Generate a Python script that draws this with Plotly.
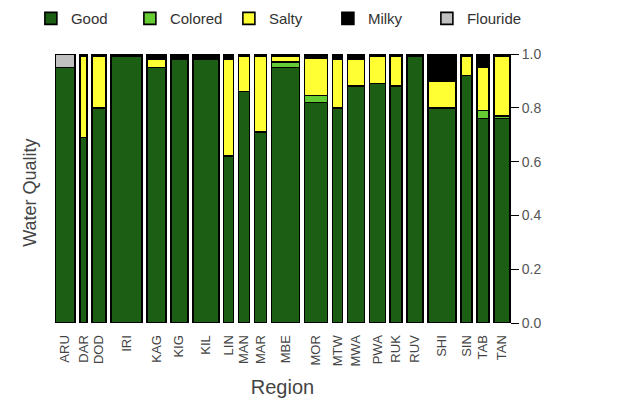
import plotly.graph_objects as go

# Water quality share per region (spine plot: bar width ~ number of samples)
regions = ["ARU", "DAR", "DOD", "IRI", "KAG", "KIG", "KIL", "LIN", "MAN", "MAR", "MBE",
           "MOR", "MTW", "MWA", "PWA", "RUK", "RUV", "SHI", "SIN", "TAB", "TAN"]
widths = [20, 7, 14, 31, 19, 17, 26, 10, 11, 12, 28, 23, 10, 17, 16, 12, 16, 28, 11, 12, 16]

good = [0.95, 0.69, 0.80, 0.99, 0.95, 0.98, 0.98, 0.62, 0.86, 0.71, 0.95,
        0.82, 0.80, 0.88, 0.89, 0.88, 0.99, 0.80, 0.92, 0.76, 0.76]
colored = [0, 0, 0, 0, 0, 0, 0, 0, 0, 0, 0.02,
           0.025, 0, 0, 0, 0, 0, 0, 0, 0.03, 0.01]
salty = [0, 0.30, 0.19, 0, 0.03, 0, 0.005, 0.36, 0.13, 0.28, 0.02,
         0.14, 0.18, 0.10, 0.10, 0.11, 0, 0.10, 0.07, 0.16, 0.22]
milky = [0, 0.01, 0.01, 0.01, 0.02, 0.02, 0.015, 0.02, 0.01, 0.01, 0.01,
         0.015, 0.02, 0.02, 0.01, 0.01, 0.01, 0.10, 0.01, 0.05, 0.01]
flouride = [0.05, 0, 0, 0, 0, 0, 0, 0, 0, 0, 0,
            0, 0, 0, 0, 0, 0, 0, 0, 0, 0]

series = [
    ("Good", good, "#1b5e14"),
    ("Colored", colored, "#66cc33"),
    ("Salty", salty, "#ffff33"),
    ("Milky", milky, "#000000"),
    ("Flouride", flouride, "#c0c0c0"),
]

gap = 4.95
centers = []
pos = 0.0
for w in widths:
    centers.append(pos + w / 2)
    pos += w + gap
total = pos - gap

FONT = "Liberation Sans, Arial, sans-serif"

fig = go.Figure()
for name, vals, color in series:
    fig.add_trace(go.Bar(
        x=centers, y=vals, width=widths, name=name,
        marker=dict(color=color, line=dict(color="#000000", width=1.6)),
    ))

fig.update_layout(
    width=619, height=398,
    margin=dict(l=55, r=109, t=54, b=75, autoexpand=False),
    barmode="stack",
    plot_bgcolor="white", paper_bgcolor="white",
    font=dict(family=FONT, color="#333333"),
    showlegend=True,
    legend=dict(
        orientation="h", x=-0.053, xanchor="left", y=1.193, yanchor="top",
        font=dict(size=15, color="#333333"),
        entrywidth=54, entrywidthmode="pixels",
        traceorder="normal",
    ),
    xaxis=dict(
        range=[0, total], showline=False, showgrid=False, zeroline=False,
        tickmode="array", tickvals=centers, ticktext=regions,
        tickangle=-90, ticks="outside", ticklen=6, tickcolor="rgba(0,0,0,0)",
        tickfont=dict(size=13, color="#444444"),
        title=dict(text="Region", font=dict(size=20, color="#444444"), standoff=18),
    ),
    yaxis=dict(
        range=[0, 1], side="right", showline=True, linecolor="#000000", linewidth=1,
        showgrid=False, zeroline=False,
        ticks="outside", ticklen=8, tickcolor="#000000",
        tickvals=[0, 0.2, 0.4, 0.6, 0.8, 1.0], tickformat=".1f",
        tickfont=dict(size=14, color="#555555"),
    ),
    annotations=[dict(
        text="Water Quality", xref="paper", yref="paper",
        x=-0.055, y=0.484, xanchor="center", yanchor="middle",
        showarrow=False, textangle=-90,
        font=dict(size=18, color="#444444"),
    )],
)

fig.write_html("out.html")
